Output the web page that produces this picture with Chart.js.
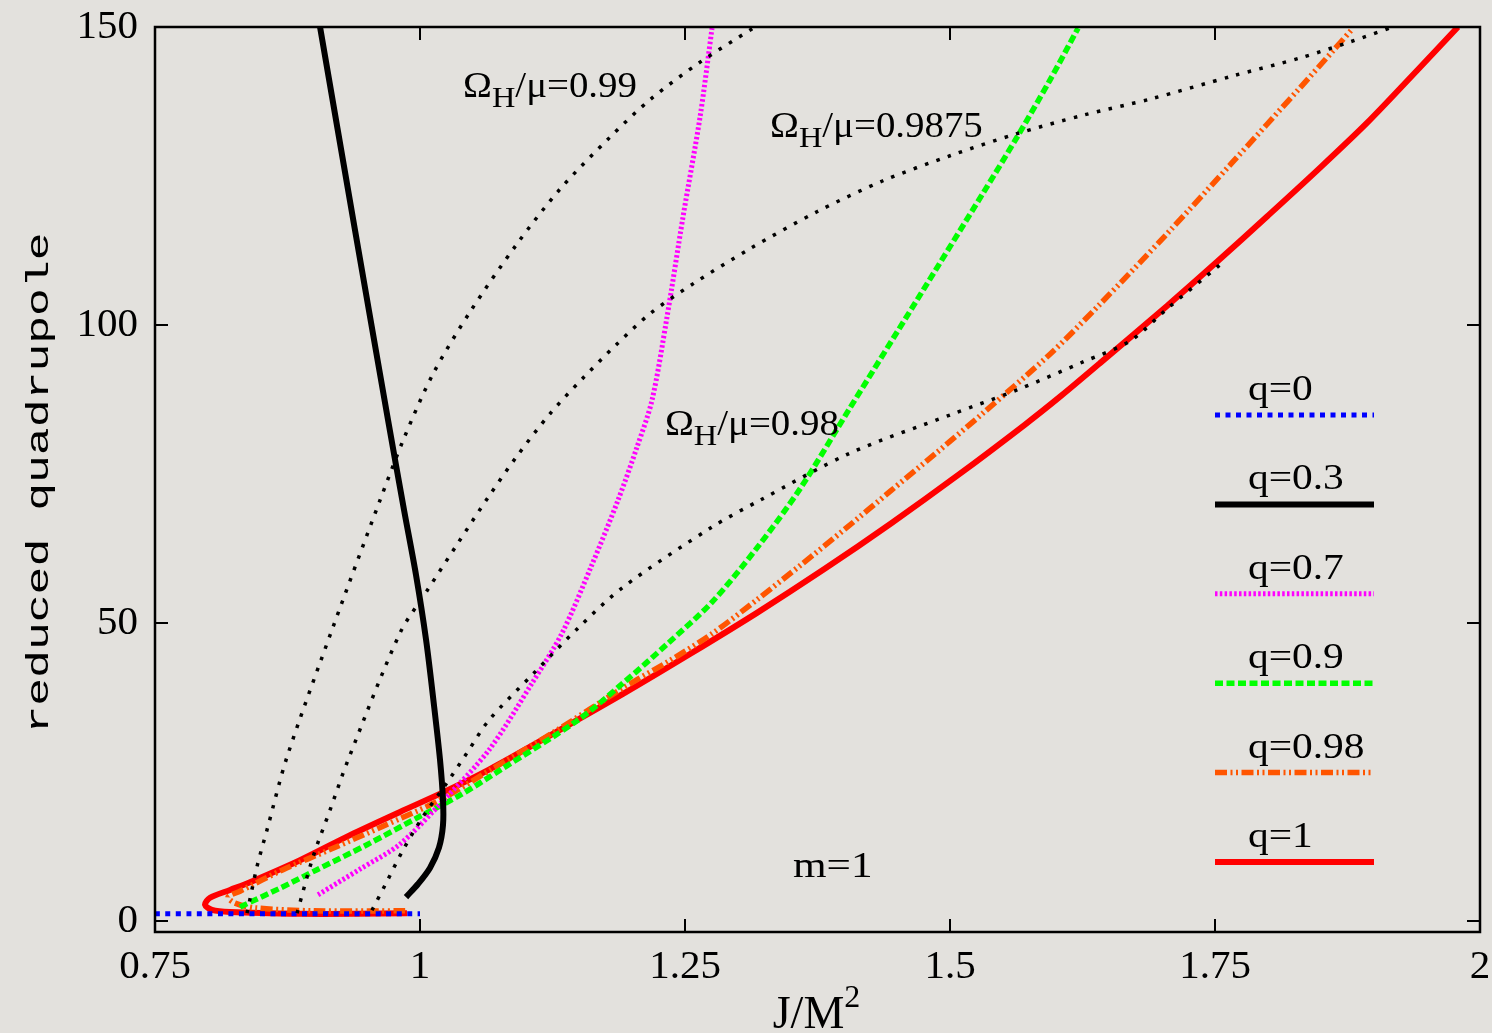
<!DOCTYPE html>
<html>
<head>
<meta charset="utf-8">
<script src="https://cdn.jsdelivr.net/npm/chart.js@4.4.1/dist/chart.umd.min.js"></script>
<style>
html,body{margin:0;padding:0;background:#e3e1dd;}
#wrap{width:1492px;height:1033px;}
</style>
</head>
<body>
<div id="wrap"><canvas id="c" width="1492" height="1033"></canvas></div>
<script>
// ---- tick labels ----
const xTicks = [0.75, 1, 1.25, 1.5, 1.75, 2];
const yTicks = [0, 50, 100, 150];

// ---- series (J/M^2, reduced quadrupole) ----
const q0X = [0.75, 1.0];
const q0Y = [1.2, 1.2];

const q03X = [0.9057, 0.9387, 0.9698, 0.9849, 0.9962, 1.0057, 1.0132, 1.0189, 1.0217, 1.0217, 1.0179, 1.0094, 0.9981, 0.9868];
const q03Y = [150.0, 115.9, 84.1, 69.0, 58.1, 47.2, 36.2, 27.0, 20.3, 16.1, 12.3, 8.9, 6.2, 4.0];

const q07X = [0.9038, 0.9434, 0.9811, 1.0236, 1.0651, 1.1057, 1.134, 1.1613, 1.1868, 1.2047, 1.2189, 1.233, 1.2481, 1.2642, 1.2755];
const q07Y = [4.4, 8.7, 12.9, 20.5, 28.7, 39.9, 48.3, 59.4, 70.6, 79.5, 87.4, 101.3, 118.1, 134.9, 149.8];

const q09X = [0.8302, 0.8679, 0.9028, 0.95, 0.9972, 1.0377, 1.0755, 1.149, 1.1915, 1.234, 1.2755, 1.3179, 1.3585, 1.4057, 1.4689, 1.5311, 1.5632, 1.5943, 1.6208];
const q09Y = [2.35, 5.5, 8.6, 12.8, 17.3, 21.1, 25.3, 33.7, 39.9, 46.6, 53.5, 62.6, 72.5, 86.1, 104.2, 122.1, 131.5, 141.1, 149.8];

const q098X = [0.986, 0.9, 0.8443, 0.8255, 0.8189, 0.8302, 0.8708, 0.9179, 0.9651, 1.0189, 1.0651, 1.1283, 1.1915, 1.234, 1.2755, 1.3179, 1.3604, 1.4019, 1.4443, 1.4868, 1.5311, 1.5943, 1.6415, 1.7047, 1.767, 1.8302, 1.8613, 1.8802];
const q098Y = [1.7, 1.7, 2.2, 3.0, 4.0, 5.0, 8.6, 12.2, 15.9, 20.3, 25.2, 31.9, 39.1, 43.5, 48.2, 53.9, 59.9, 65.9, 72.2, 78.5, 85.2, 95.1, 103.5, 115.3, 127.4, 139.8, 146.0, 149.8];

const q1X = [0.9877, 0.94, 0.8868, 0.8208, 0.8038, 0.7972, 0.8019, 0.8208, 0.8396, 0.8868, 0.9340, 0.9811, 1.0232, 1.0651, 1.1283, 1.1915, 1.2547, 1.3179, 1.3811, 1.4443, 1.5075, 1.5708, 1.6047, 1.6415, 1.7047, 1.7519, 1.7991, 1.8462, 1.8934, 1.9406, 1.9792];
const q1Y = [1.3, 1.2, 1.2, 1.5, 1.85, 2.7, 3.9, 5.2, 6.5, 10.2, 14.4, 18.3, 21.7, 25.4, 31.7, 38.1, 44.8, 51.7, 59.0, 66.7, 74.8, 83.3, 88.1, 93.6, 103.2, 110.6, 118.2, 125.9, 133.9, 142.7, 150.0];

const om099X = [0.8368, 0.8462, 0.8557, 0.8745, 0.9179, 0.9623, 0.9849, 1.0123, 1.0472, 1.0915, 1.1321, 1.1792, 1.217, 1.2642, 1.3142];
const om099Y = [1.3, 9.1, 15.3, 27.5, 49.3, 70.6, 81.0, 91.8, 102.2, 113.6, 122.8, 131.5, 137.8, 144.1, 149.8];

const om09875X = [0.884, 0.899, 0.9151, 0.9321, 0.9811, 1.0066, 1.0358, 1.0651, 1.0915, 1.1226, 1.1538, 1.1858, 1.217, 1.2575, 1.3113, 1.3745, 1.4368, 1.5, 1.5632, 1.6255, 1.6887, 1.767, 1.8302, 1.8774, 1.9179];
const om09875Y = [1.3, 10.7, 18.6, 27.0, 48.3, 55.4, 63.4, 71.3, 78.0, 85.1, 91.1, 96.8, 101.9, 106.9, 112.8, 119.0, 124.2, 128.4, 132.1, 135.2, 137.9, 141.8, 144.8, 147.5, 150.0];

const om098X = [0.9547, 0.967, 0.984, 1.0028, 1.0255, 1.0443, 1.0651, 1.1075, 1.15, 1.1915, 1.2755, 1.3208, 1.4057, 1.5, 1.5632, 1.6255, 1.6698, 1.7047, 1.7547];
const om098Y = [1.8, 6.0, 11.9, 17.5, 23.2, 28.2, 33.7, 41.6, 49.3, 56.0, 66.1, 70.6, 78.5, 84.9, 89.1, 93.8, 97.3, 102.7, 110.1];

// ---- text labels ----
const legendLabels = ['q=0', 'q=0.3', 'q=0.7', 'q=0.9', 'q=0.98', 'q=1'];
const omegaValues = ['0.99', '0.9875', '0.98'];
const omegaAnchorX = [1.0406, 1.3302, 1.2311];
const omegaAnchorY = [138.3, 131.5, 81.5];
const panelLabel = 'm=1';
const panelAnchor = [1.3519, 7.4];
const xTitle = 'J/M';
const xTitleSup = '2';
const yTitle = 'reduced quadrupole';

function pts(xs, ys) { return xs.map((x, i) => ({ x: x, y: ys[i] })); }

const dotted = { borderColor: '#000000', borderWidth: 3.5, borderDash: [3.5, 8.5] };

const series = [
  { label: legendLabels[0], data: pts(q0X, q0Y), borderColor: '#0000ff', borderWidth: 5, borderDash: [5, 5.5] },
  { label: legendLabels[1], data: pts(q03X, q03Y), borderColor: '#000000', borderWidth: 6, borderDash: [] },
  { label: legendLabels[2], data: pts(q07X, q07Y), borderColor: '#ff00ff', borderWidth: 5, borderDash: [2.5, 2.3] },
  { label: legendLabels[3], data: pts(q09X, q09Y), borderColor: '#00ff00', borderWidth: 5.5, borderDash: [8, 3.5] },
  { label: legendLabels[4], data: pts(q098X, q098Y), borderColor: '#ff5500', borderWidth: 5.5, borderDash: [12, 3.5, 2, 3.5, 2, 3.5] },
  { label: legendLabels[5], data: pts(q1X, q1Y), borderColor: '#ff0000', borderWidth: 6, borderDash: [] }
];
const omegaSeries = [
  Object.assign({ label: 'Ω 0.99', data: pts(om099X, om099Y) }, dotted),
  Object.assign({ label: 'Ω 0.9875', data: pts(om09875X, om09875Y) }, dotted),
  Object.assign({ label: 'Ω 0.98', data: pts(om098X, om098Y) }, dotted)
];

// dataset index 0 is drawn last (on top): dotted curves on top, q=1 at the bottom
const datasets = omegaSeries.concat(series).map(d => Object.assign({
  showLine: true, pointRadius: 0, fill: false, tension: 0.3, borderCapStyle: 'butt', borderJoinStyle: 'round'
}, d));

const BG = '#e3e1dd';
const SERIF = '"Liberation Serif", "Times New Roman", serif';

function stext(ctx, str, x, y, size, family, sx) {
  ctx.save();
  ctx.translate(x, y);
  ctx.scale(sx, 1);
  ctx.font = size + 'px ' + family;
  ctx.textAlign = 'left';
  ctx.textBaseline = 'alphabetic';
  ctx.fillStyle = '#000';
  ctx.fillText(str, 0, 0);
  const w = ctx.measureText(str).width * sx;
  ctx.restore();
  return w;
}

const bgPlugin = {
  id: 'bg',
  beforeDraw(chart) {
    const c = chart.ctx;
    c.save(); c.fillStyle = BG; c.fillRect(0, 0, chart.width, chart.height); c.restore();
  }
};

const decoPlugin = {
  id: 'deco',
  afterDatasetsDraw(chart) {
    const c = chart.ctx, a = chart.chartArea, sx = chart.scales.x, sy = chart.scales.y;
    c.save();
    c.strokeStyle = '#000'; c.lineWidth = 2.5; c.setLineDash([]);
    c.strokeRect(a.left, a.top, a.right - a.left, a.bottom - a.top);
    c.lineWidth = 2;
    const tl = 13;
    xTicks.forEach(v => {
      const px = sx.getPixelForValue(v);
      c.beginPath(); c.moveTo(px, a.bottom); c.lineTo(px, a.bottom - tl); c.stroke();
      c.beginPath(); c.moveTo(px, a.top); c.lineTo(px, a.top + tl); c.stroke();
    });
    yTicks.forEach(v => {
      const py = sy.getPixelForValue(v);
      c.beginPath(); c.moveTo(a.left, py); c.lineTo(a.left + tl, py); c.stroke();
      c.beginPath(); c.moveTo(a.right, py); c.lineTo(a.right - tl, py); c.stroke();
    });
    c.restore();

    const F = 36, SUB = 30, SX = 1.08;
    omegaValues.forEach((val, i) => {
      let x = sx.getPixelForValue(omegaAnchorX[i]);
      const y = sy.getPixelForValue(omegaAnchorY[i]);
      x += stext(c, 'Ω', x, y, F, SERIF, SX);
      x += stext(c, 'H', x, y + 10, SUB, SERIF, SX);
      stext(c, '/μ=' + val, x, y, F, SERIF, SX);
    });
    stext(c, panelLabel, sx.getPixelForValue(panelAnchor[0]), sy.getPixelForValue(panelAnchor[1]), F, SERIF, 1.2);

    // legend: text above each line sample
    const lx0 = a.right - 265, lx1 = a.right - 106, tx = a.right - 232;
    const ly0 = sy.getPixelForValue(84.9), step = 89.4;
    series.forEach((s, i) => {
      const ly = ly0 + i * step;
      stext(c, s.label, tx, ly - 15, F, SERIF, 1.15);
      c.save();
      c.strokeStyle = s.borderColor; c.lineWidth = s.borderWidth; c.lineCap = 'butt';
      c.setLineDash(s.borderDash);
      c.beginPath(); c.moveTo(lx0, ly); c.lineTo(lx1, ly); c.stroke();
      c.restore();
    });
  },
  afterDraw(chart) {
    const c = chart.ctx, a = chart.chartArea;
    const cx = (a.left + a.right) / 2;
    c.save();
    c.font = '46px ' + SERIF;
    const w1 = c.measureText(xTitle).width;
    c.font = '32px ' + SERIF;
    const w2 = c.measureText(xTitleSup).width;
    c.restore();
    let x = cx - (w1 + w2) / 2 - 1;
    x += stext(c, xTitle, x, 1028, 46, SERIF, 1);
    stext(c, xTitleSup, x, 1007, 32, SERIF, 1);
    c.save();
    c.translate(48, 483);
    c.rotate(-Math.PI / 2);
    c.scale(1.45, 1);
    c.font = '32px "Liberation Mono", "Courier New", monospace';
    c.textAlign = 'center';
    c.textBaseline = 'alphabetic';
    c.fillStyle = '#000';
    c.fillText(yTitle, 0, 0);
    c.restore();
  }
};

function build() {
  new Chart(document.getElementById('c'), {
    type: 'scatter',
    data: { datasets: datasets },
    options: {
      responsive: false,
      animation: false,
      events: [],
      layout: { padding: { top: 27, right: 12, left: 0, bottom: 0 } },
      plugins: { legend: { display: false }, tooltip: { enabled: false }, title: { display: false } },
      scales: {
        x: {
          type: 'linear', position: 'bottom', min: 0.75, max: 2,
          afterFit: s => { s.height = 101; s.paddingLeft = 0; s.paddingRight = 0; s.paddingTop = 0; s.paddingBottom = 0; },
          afterBuildTicks: s => { s.ticks = xTicks.map(v => ({ value: v })); },
          grid: { display: false, drawTicks: false },
          border: { display: false },
          ticks: { padding: 11, color: '#000', autoSkip: false, maxRotation: 0,
            font: { family: SERIF, size: 41 }, callback: v => String(v) }
        },
        y: {
          type: 'linear', position: 'left', min: -1.85, max: 150,
          afterFit: s => { s.width = 155; s.paddingLeft = 0; s.paddingRight = 0; s.paddingTop = 0; s.paddingBottom = 0; },
          afterBuildTicks: s => { s.ticks = yTicks.map(v => ({ value: v })); },
          grid: { display: false, drawTicks: false },
          border: { display: false },
          ticks: { padding: 17, color: '#000', autoSkip: false,
            font: { family: SERIF, size: 41 }, callback: v => String(v) }
        }
      }
    },
    plugins: [bgPlugin, decoPlugin]
  });
}

if (document.fonts && document.fonts.load) {
  Promise.all([
    document.fonts.load('36px "Liberation Serif"'),
    document.fonts.load('32px "Liberation Mono"')
  ]).then(build, build);
} else {
  build();
}
</script>
</body>
</html>
